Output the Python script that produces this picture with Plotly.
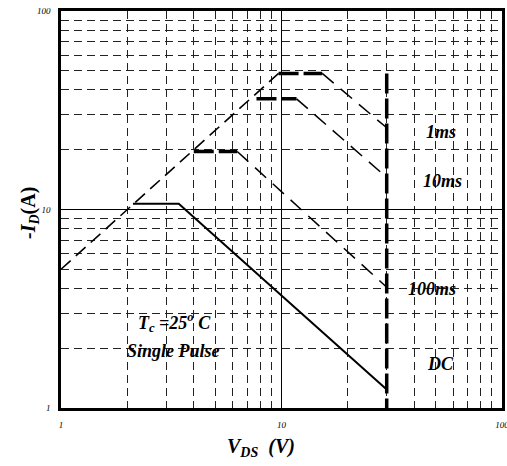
import plotly.graph_objects as go

# ---- data (V_DS in volts, -I_D in amps) ----
rds_v = [1.0, 9.7]
rds_i = [5.0, 48.5]

ms1_flat_v = [9.7, 15.3]
ms1_flat_i = [48.5, 48.5]
ms1_fall_v = [15.3, 30.0]
ms1_fall_i = [48.5, 25.8]

ms10_flat_v = [7.7, 11.7]
ms10_flat_i = [36.1, 36.1]
ms10_fall_v = [11.7, 30.0]
ms10_fall_i = [36.1, 14.5]

ms100_flat_v = [4.0, 6.3]
ms100_flat_i = [19.6, 19.6]
ms100_fall_v = [6.3, 30.0]
ms100_fall_i = [19.6, 4.06]

dc_v = [2.12, 3.42, 30.0]
dc_i = [10.7, 10.7, 1.24]

vmax_v = [30.0, 30.0]
vmax_i = [48.5, 1.0]

tick_vals = [1, 10, 100]
tick_text = ["1", "10", "100"]

FONT = "Liberation Serif"

fig = go.Figure()

def add(x, y, width, dash):
    fig.add_trace(go.Scatter(x=x, y=y, mode="lines",
                             line=dict(color="black", width=width, dash=dash),
                             hoverinfo="skip", showlegend=False))

add(rds_v, rds_i, 1.6, "13px,7px")
add(ms1_fall_v, ms1_fall_i, 1.5, "15px,9px")
add(ms10_fall_v, ms10_fall_i, 1.5, "15px,9px")
add(ms100_fall_v, ms100_fall_i, 1.5, "15px,9px")
add(ms1_flat_v, ms1_flat_i, 3.5, "20px,5px")
add(ms10_flat_v, ms10_flat_i, 3.5, "20px,5px")
add(ms100_flat_v, ms100_flat_i, 3.5, "20px,5px")
add(vmax_v, vmax_i, 3.5, "20px,5px")
add(dc_v, dc_i, 2, "solid")

L, R, T, B = 61, 502, 11, 408      # plot area in page pixels
W, H = 507, 466                    # figure size

def px(xp, yp):
    return (xp - L) / (R - L), (B - yp) / (B - T)

def label(text, xp, yp, size=18):
    x, y = px(xp, yp)
    fig.add_annotation(x=x, y=y, xref="paper", yref="paper", text=text,
                       showarrow=False,
                       font=dict(family=FONT, size=size, color="black",
                                 weight="bold", style="italic"),
                       xanchor="center", yanchor="middle")

label("<b><i>1ms</i></b>", 441, 132)
label("<b><i>10ms</i></b>", 442, 181)
label("<b><i>100ms</i></b>", 432, 289)
label("<b><i>DC</i></b>", 440, 364)
label("<b><i>T<sub>c</sub> =25<sup>o</sup> C</i></b>", 174, 322)
label("<b><i>Single Pulse</i></b>", 173, 351, 18)
label("<b><i>V<sub>DS</sub>  (V)</i></b>", 261, 447, 20)

x, y = px(30, 213)
fig.add_annotation(x=x, y=y, xref="paper", yref="paper",
                   text="<b><i>-I<sub>D</sub></i>(A)</b>", textangle=-90,
                   showarrow=False,
                   font=dict(family=FONT, size=20, color="black", weight="bold"),
                   xanchor="center", yanchor="middle")

axis_common = dict(
    type="log", tickvals=tick_vals, ticktext=tick_text,
    showline=True, linecolor="black", linewidth=2.5, mirror=True,
    showgrid=True, gridcolor="black", gridwidth=0.8,
    ticks="", zeroline=False, automargin=False,
    ticklabeloverflow="allow",
    tickfont=dict(family=FONT, size=9, color="black", style="italic"),
    minor=dict(dtick="D1", showgrid=True, gridcolor="#222222",
               gridwidth=0.8, griddash="8px,5px", ticks=""),
)

fig.update_xaxes(range=[0, 2], ticklabelstandoff=6, **axis_common)
fig.update_yaxes(range=[0, 2], ticklabelstandoff=6, **axis_common)

fig.update_layout(
    width=W, height=H,
    margin=dict(l=L, r=W - R, t=T, b=H - B),
    paper_bgcolor="white", plot_bgcolor="white",
    font=dict(family=FONT, color="black"),
)

fig.write_html("out.html",
               config={"displayModeBar": False},
               post_script="document.body.style.margin='0';document.body.style.overflow='hidden';")
